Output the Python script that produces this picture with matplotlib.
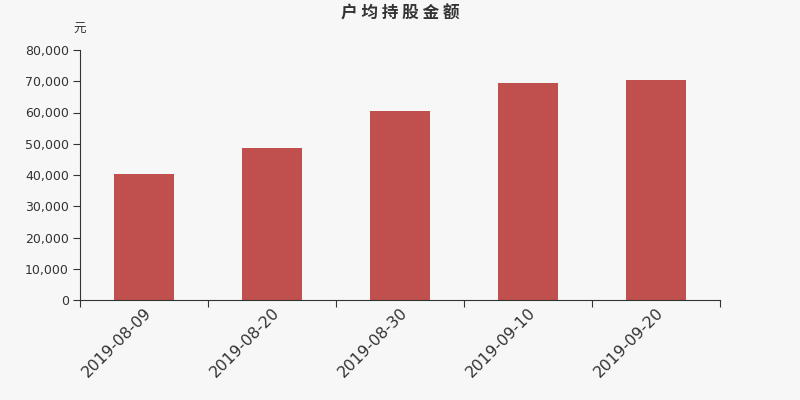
import matplotlib
matplotlib.use("Agg")
import matplotlib.pyplot as plt
from matplotlib.ticker import FuncFormatter, FixedLocator
import numpy as np

plt.rcParams['font.family'] = ['DejaVu Sans', 'Noto Sans CJK SC']

categories = ["2019-08-09", "2019-08-20", "2019-08-30", "2019-09-10", "2019-09-20"]
values = [40400, 48700, 60640, 69570, 70430]
yticks = [0, 10000, 20000, 30000, 40000, 50000, 60000, 70000, 80000]

bg = "#f7f7f7"
fig = plt.figure(figsize=(8, 4), dpi=100, facecolor=bg)
ax = fig.add_axes([0.1, 0.25, 0.8, 0.625], facecolor=bg)

x = np.arange(len(categories))
ax.bar(x, values, width=0.47, color="#c0504d")

ax.set_xlim(-0.5, len(categories) - 0.5)
ax.set_ylim(0, 80000)
ax.set_yticks(yticks)
ax.yaxis.set_major_formatter(FuncFormatter(lambda v, p: f"{int(v):,}"))
ax.tick_params(axis='y', labelsize=9, colors="#333333", length=5, width=0.8, pad=3)

ax.set_xticks(x)
ax.set_xticklabels(categories, rotation=45, ha='right', rotation_mode='anchor', fontsize=11.3, color="#333333")
ax.tick_params(axis='x', which='major', length=0, pad=4)
ax.xaxis.set_minor_locator(FixedLocator(np.arange(-0.5, len(categories), 1.0)))
ax.tick_params(axis='x', which='minor', length=5, width=0.8, color="#333333")

for s in ['top', 'right']:
    ax.spines[s].set_visible(False)
for s in ['left', 'bottom']:
    ax.spines[s].set_color("#333333")
    ax.spines[s].set_linewidth(0.8)

fig.text(0.5, 1 - 14 / 400, "户 均 持 股 金 额", ha='center', va='center', fontsize=12,
         fontweight='bold', color="#333333", family=['Noto Sans CJK SC', 'DejaVu Sans'])
fig.text(80 / 800, 1 - 29 / 400, "元", ha='center', va='center', fontsize=9, color="#333333",
         family=['Noto Sans CJK SC', 'DejaVu Sans'])

fig.savefig("out.png", dpi=100, facecolor=bg)
